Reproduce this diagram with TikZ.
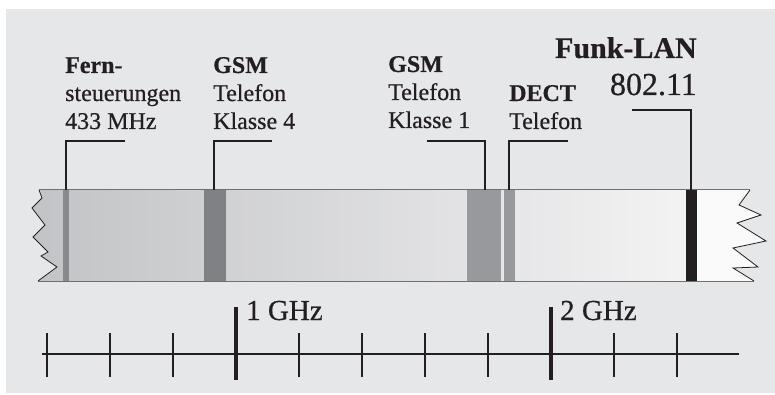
\documentclass[tikz,border=0pt]{standalone}
\usepackage{fontspec}
\setmainfont{Liberation Serif}
\newfontfamily\semifont{Liberation Serif}[RawFeature={embolden=0.6}]
\usetikzlibrary{positioning,calc}
\definecolor{inkPanel}{RGB}{230,231,233}
\definecolor{inkText}{RGB}{35,31,32}
\definecolor{bandDark}{RGB}{194,195,198}
\definecolor{bandLight}{RGB}{243,243,244}
\definecolor{bandEnd}{RGB}{250,250,250}
\definecolor{barMid}{RGB}{128,129,132}
\definecolor{barLight}{RGB}{152,153,156}
\definecolor{barFern}{RGB}{136,137,140}
\definecolor{edgeGray}{RGB}{110,111,114}

\tikzset{
  bandbar/.style={inner sep=0pt, minimum height=91pt, draw=none},
  leader/.style={draw=inkText, line width=1.2pt},
  lbl/.style={inner sep=0pt, align=left, text=inkText, anchor=base west,
    font=\semifont\fontsize{24pt}{28pt}\selectfont},
  ghz/.style={inner sep=0pt, text=inkText, anchor=base west,
    font=\semifont\fontsize{29pt}{34pt}\selectfont},
  axisline/.style={draw=inkText, line width=2.2pt},
  minortick/.style={draw=inkText, line width=2.2pt},
  majortick/.style={draw=inkText, line width=4pt},
}

\begin{document}
\begin{tikzpicture}[x=1pt, y=-1pt]
  \useasboundingbox (0,0) rectangle (775,395);
  \fill[inkPanel] (6,9) rectangle (775,393);

  % frequency band
  \begin{scope}
    \clip (39,190) -- (750,190) -- (739,205) -- (761,215) -- (737,223) -- (766,241)
      -- (733,248) -- (758,267) -- (733,268) -- (754,281) -- (38,281) -- (57,267)
      -- (41,256) -- (48,252) -- (33,237) -- (45,225) -- (32,208) -- (42,198) -- cycle;
    \shade[left color=bandDark, right color=bandLight] (30,185) rectangle (688,286);
    \fill[bandEnd] (688,185) rectangle (770,286);
  \end{scope}
  \draw[edgeGray, line width=1pt] (39,190) -- (750,190);
  \draw[edgeGray, line width=1pt] (38,281) -- (754,281);
  \draw[inkText, line width=0.8pt] (39,190) -- (42,198) -- (32,208) -- (45,225) -- (33,237)
    -- (48,252) -- (41,256) -- (57,267) -- (38,281);
  \draw[inkText, line width=0.8pt] (750,190) -- (739,205) -- (761,215) -- (737,223) -- (766,241)
    -- (733,248) -- (758,267) -- (733,268) -- (754,281);

  % bands of the services
  \node[bandbar, fill=barFern, minimum width=6pt] (fern) at (66,235.5) {};
  \node[bandbar, fill=barMid, minimum width=22pt] (gsmA) at (215,235.5) {};
  \node[bandbar, fill=barLight, minimum width=34pt] (gsmB) at (484,235.5) {};
  \node[bandbar, fill=barLight, minimum width=11pt] (dect) at (509.5,235.5) {};
  \node[bandbar, fill=inkText, minimum width=11pt] (wlan) at (691.5,235.5) {};

  % labels (anchored at the last line)
  \node[lbl] (fernLbl) at (65,129) {\textbf{Fern-}\\steuerungen\\433 MHz};
  \node[lbl] (gsmALbl) at (213,129) {\textbf{GSM}\\Telefon\\Klasse 4};
  \node[lbl] (gsmBLbl) at (388,128) {\textbf{GSM}\\Telefon\\Klasse 1};
  \node[lbl] (dectLbl) at (509,129) {\textbf{DECT}\\Telefon};
  \node[lbl, anchor=base east, align=right, font=\semifont\fontsize{32pt}{37pt}\selectfont]
    (wlanLbl) at (697,95) {\textbf{\fontsize{30pt}{37pt}\selectfont Funk-LAN}\\802.11};

  % leaders
  \coordinate (fernEnd) at (125,141);
  \coordinate (gsmAEnd) at (272,141);
  \coordinate (gsmBEnd) at (427,141);
  \coordinate (dectEnd) at (568,141);
  \coordinate (wlanEnd) at (632,110);
  \draw[leader] ([xshift=0pt]fern.north) |- (fernEnd);
  \draw[leader] ([xshift=-1pt]gsmA.north) |- (gsmAEnd);
  \draw[leader] ([xshift=1pt]gsmB.north) |- (gsmBEnd);
  \draw[leader] ([xshift=-0.5pt]dect.north) |- (dectEnd);
  \draw[leader] ([xshift=-0.5pt]wlan.north) |- (wlanEnd);

  % frequency axis
  \draw[axisline] (42,354) -- (739,354);
  \foreach \x in {47,110,173,299,362,425,488,614,677}
    \draw[minortick] (\x,333) -- (\x,377);
  \coordinate (oneG) at (236,307);
  \coordinate (twoG) at (551,307);
  \draw[majortick] (oneG) -- (236,380);
  \draw[majortick] (twoG) -- (551,380);
  \node[ghz] (oneGLbl) at (246,320) {1 GHz};
  \node[ghz] (twoGLbl) at (560,320) {2 GHz};
\end{tikzpicture}
\end{document}
